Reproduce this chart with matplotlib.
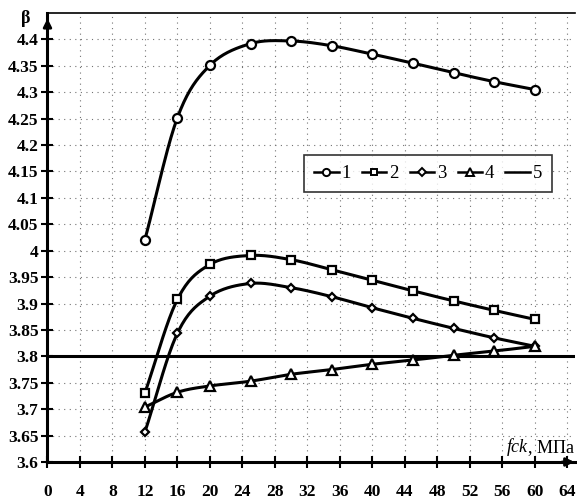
import numpy as np
import matplotlib.pyplot as plt
from matplotlib.lines import Line2D

# ==========================================================
# DATA
# ==========================================================

fck = [12, 16, 20, 25, 30, 35, 40, 45, 50, 55, 60]

beta_1 = [4.021, 4.252, 4.351, 4.392, 4.397, 4.388, 4.372, 4.355, 4.337, 4.320, 4.305]
beta_2 = [3.731, 3.908, 3.974, 3.991, 3.983, 3.964, 3.944, 3.924, 3.905, 3.887, 3.870]
beta_3 = [3.657, 3.844, 3.914, 3.938, 3.930, 3.913, 3.892, 3.872, 3.853, 3.835, 3.819]
beta_4 = [3.704, 3.732, 3.744, 3.753, 3.766, 3.775, 3.785, 3.793, 3.802, 3.810, 3.819]
beta_target = 3.8

x_ticks = list(range(0, 65, 4))
y_ticks = [3.6, 3.65, 3.7, 3.75, 3.8, 3.85, 3.9, 3.95, 4.0, 4.05,
           4.1, 4.15, 4.2, 4.25, 4.3, 4.35, 4.4]


def smooth(x, y, n=20):
    # Catmull-Rom curve through the points, like Excel's smoothed line
    x = np.asarray(x, float)
    y = np.asarray(y, float)
    px = np.concatenate([[2 * x[0] - x[1]], x, [2 * x[-1] - x[-2]]])
    py = np.concatenate([[2 * y[0] - y[1]], y, [2 * y[-1] - y[-2]]])
    t = np.linspace(0, 1, n, endpoint=False)
    xs, ys = [], []
    for i in range(1, len(px) - 2):
        for p, out in ((px, xs), (py, ys)):
            p0, p1, p2, p3 = p[i - 1], p[i], p[i + 1], p[i + 2]
            out.extend(0.5 * (2 * p1 + (-p0 + p2) * t
                              + (2 * p0 - 5 * p1 + 4 * p2 - p3) * t ** 2
                              + (-p0 + 3 * p1 - 3 * p2 + p3) * t ** 3))
    xs.append(x[-1])
    ys.append(y[-1])
    return xs, ys


plt.rcParams['font.family'] = ['Liberation Serif', 'DejaVu Serif']

fig = plt.figure(figsize=(5.77, 4.98), dpi=100)
ax = fig.add_axes([0.0823, 0.0723, 0.915, 0.9016])

series = [
    (beta_1, 'o', 6.5, '1'),
    (beta_2, 's', 6.0, '2'),
    (beta_3, 'D', 4.5, '3'),
    (beta_4, '^', 7.0, '4'),
]

handles = []
for values, marker, size, label in series:
    sx, sy = smooth(fck, values)
    ax.plot(sx, sy, color='black', linewidth=2.2, zorder=3)
    ax.plot(fck, values, linestyle='none', marker=marker, markersize=size,
            markerfacecolor='white', markeredgecolor='black',
            markeredgewidth=1.6, zorder=4)
    handles.append(Line2D([], [], color='black', linewidth=1.8, marker=marker,
                          markersize=size * 0.8, markerfacecolor='white',
                          markeredgecolor='black', markeredgewidth=1.4,
                          label=label))

ax.axhline(beta_target, color='black', linewidth=2.2, zorder=3)
handles.append(Line2D([], [], color='black', linewidth=1.8, label='5'))

# ==========================================================
# AXES
# ==========================================================

ax.set_xlim(0, 65)
ax.set_ylim(3.6, 4.45)

ax.set_xticks(x_ticks)
ax.set_xticklabels([str(v) for v in x_ticks])
ax.set_yticks(y_ticks)
ax.set_yticklabels(['%g' % v for v in y_ticks])

ax.tick_params(direction='inout', length=9, width=1.5, labelsize=12.5, pad=2)
ax.tick_params(axis='x', pad=11)
for lab in ax.get_xticklabels() + ax.get_yticklabels():
    lab.set_fontweight('bold')

ax.grid(True, color='0.45', linestyle=(0, (1, 4)), linewidth=0.8)

ax.spines['right'].set_visible(False)
ax.spines['left'].set_linewidth(2.2)
ax.spines['bottom'].set_linewidth(2.2)
ax.spines['top'].set_linewidth(1.2)

# axis arrows
ax.annotate('', xy=(0, 4.445), xytext=(0, 4.40),
            arrowprops=dict(arrowstyle='-|>', color='black', lw=2,
                            mutation_scale=12), annotation_clip=False)
ax.annotate('', xy=(65.2, 3.6), xytext=(63, 3.6),
            arrowprops=dict(arrowstyle='-|>', color='black', lw=2,
                            mutation_scale=12), annotation_clip=False)

fig.text(0.045, 0.962, 'β', fontsize=13, fontweight='bold',
         ha='center', va='center')

# x-axis name: italic "fck" followed by ", МПа"
unit_text = ax.text(64.8, 3.628, ', МПа', fontsize=13,
                    ha='right', va='center', zorder=5)
ax.annotate('fck', xy=(0, 0), xycoords=unit_text, fontsize=13,
            fontstyle='italic', ha='right', va='bottom', zorder=5)

leg = ax.legend(handles=handles, ncol=5, loc='center',
                bbox_to_anchor=(0.721, 0.6425), fontsize=13.5,
                handlelength=1.3, handletextpad=0.15, columnspacing=0.6,
                frameon=True, fancybox=False, borderpad=0.55,
                borderaxespad=0)
leg.get_frame().set_edgecolor('black')
leg.get_frame().set_linewidth(1.2)

plt.savefig('out.png', dpi=100)
